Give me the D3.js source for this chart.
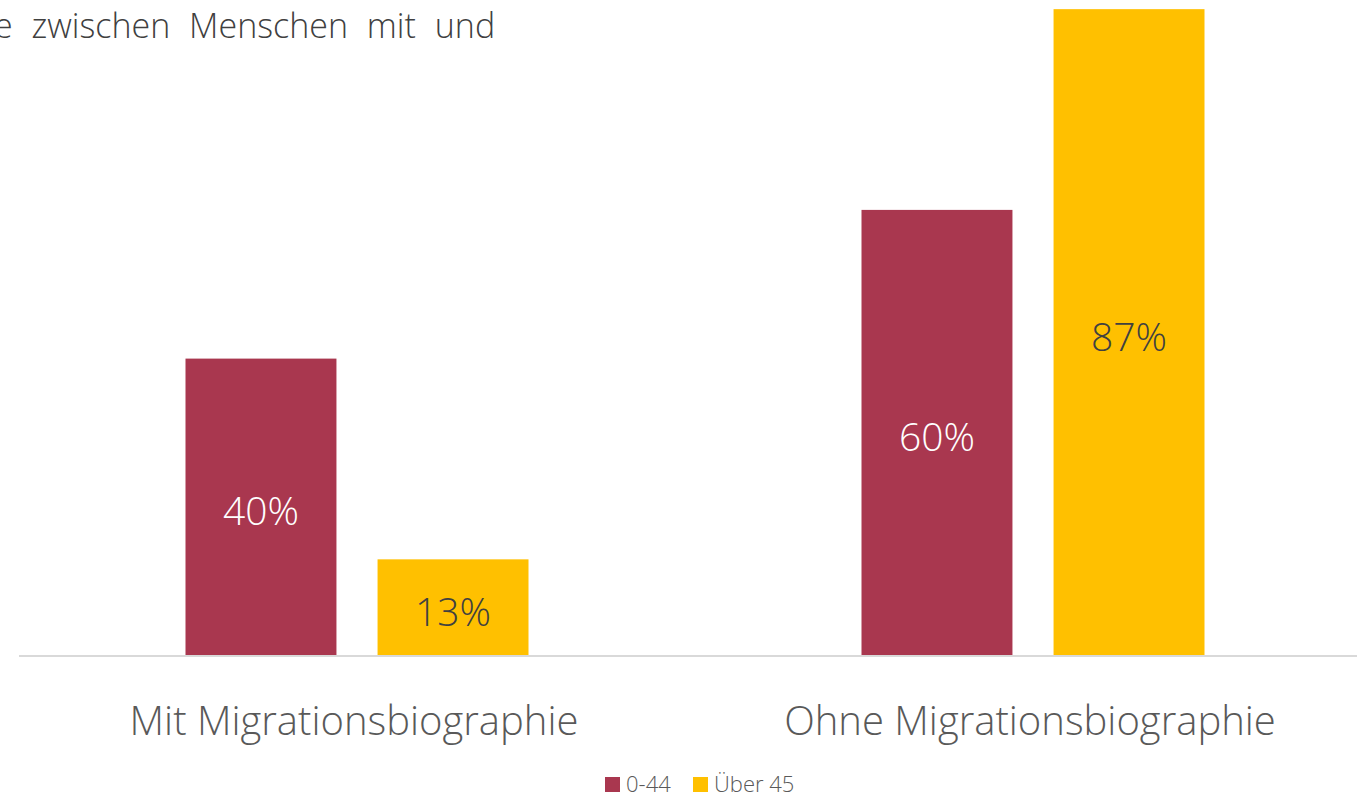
<!DOCTYPE html>
<html>
<head>
<meta charset="utf-8">
<script src="https://cdn.jsdelivr.net/npm/d3@7"></script>
<style>
  body { margin: 0; background: #fff; overflow: hidden; }
  text { font-family: "Open Sans", "Segoe UI", sans-serif; font-weight: 300; }
</style>
</head>
<body>
<svg width="1357" height="796"></svg>
<script>
var categories = ["Mit Migrationsbiographie", "Ohne Migrationsbiographie"];
var seriesNames = ["0-44", "Über 45"];
var young = [40, 60];   // 0-44
var old = [13, 87];     // Über 45
var titleText = "e zwischen Menschen mit und";

var colors = ["#a9374f", "#ffc000"];
var labelColors = ["#ffffff", "#404040"];

var svg = d3.select("svg"),
    baseY = 656;

var data = categories.map(function(c, i) {
  return {cat: c, values: [young[i], old[i]]};
});

var x0 = d3.scaleBand().domain(categories).range([19, 1371]);
var x1 = d3.scaleBand().domain(seriesNames).range([0, 343]).paddingInner(0.214);
var y = d3.scaleLinear().domain([0, 100]).range([baseY, baseY - 743.5]);

// title (cropped off at left in the original)
svg.append("text")
    .attr("x", -6)
    .attr("y", 38)
    .style("font-size", "34px")
    .style("word-spacing", "10px")
    .style("fill", "#404040")
    .text(titleText);

var group = svg.selectAll(".grp")
  .data(data)
  .enter().append("g")
    .attr("class", "grp")
    .attr("transform", function(d) {
      return "translate(" + (x0(d.cat) + x0.bandwidth() / 2 - 171.5) + ",0)";
    });

var bar = group.selectAll(".bar")
  .data(function(d) {
    return d.values.map(function(v, j) { return {key: seriesNames[j], value: v, j: j}; });
  })
  .enter().append("g").attr("class", "bar");

bar.append("rect")
    .attr("x", function(d) { return x1(d.key); })
    .attr("width", x1.bandwidth())
    .attr("y", function(d) { return y(d.value); })
    .attr("height", function(d) { return baseY - y(d.value); })
    .style("fill", function(d) { return colors[d.j]; });

bar.append("text")
    .attr("x", function(d) { return x1(d.key) + x1.bandwidth() / 2; })
    .attr("y", function(d) { return (y(d.value) + baseY) / 2 + 4; })
    .attr("dy", "0.36em")
    .style("text-anchor", "middle")
    .style("font-size", "39px")
    .style("fill", function(d) { return labelColors[d.j]; })
    .text(function(d) { return d.value + "%"; });

// baseline
svg.append("line")
    .attr("x1", 19).attr("x2", 1357)
    .attr("y1", baseY).attr("y2", baseY)
    .style("stroke", "#d9d9d9")
    .style("stroke-width", 2);

// category labels
svg.selectAll(".cat")
  .data(categories)
  .enter().append("text")
    .attr("class", "cat")
    .attr("x", function(d) { return x0(d) + x0.bandwidth() / 2 - 3; })
    .attr("y", 735)
    .style("text-anchor", "middle")
    .style("font-size", "40px")
    .style("fill", "#595959")
    .text(function(d) { return d; });

// legend
var legendX = [605, 693];
var leg = svg.selectAll(".leg")
  .data(seriesNames)
  .enter().append("g")
    .attr("class", "leg")
    .attr("transform", function(d, i) { return "translate(" + legendX[i] + ",777)"; });

leg.append("rect")
    .attr("width", 15).attr("height", 15)
    .style("fill", function(d, i) { return colors[i]; });

leg.append("text")
    .attr("x", 21)
    .attr("y", 15)
    .style("font-size", "22px")
    .style("fill", "#595959")
    .text(function(d) { return d; });
</script>
</body>
</html>
